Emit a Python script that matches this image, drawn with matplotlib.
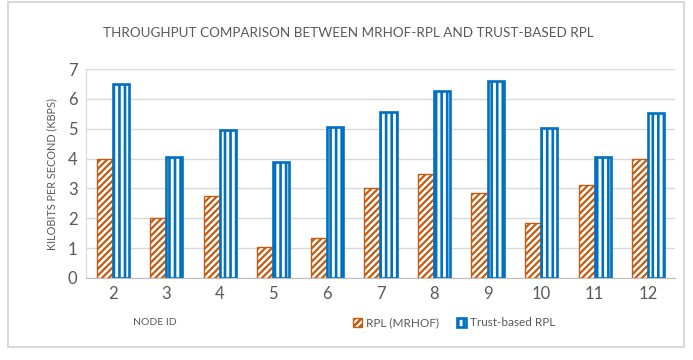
import numpy as np
import matplotlib.pyplot as plt
from matplotlib.patches import Rectangle

nodes = ['2', '3', '4', '5', '6', '7', '8', '9', '10', '11', '12']
rpl_mrhof = [4.0, 2.0, 2.75, 1.05, 1.35, 3.0, 3.5, 2.85, 1.85, 3.1, 4.0]
trust_rpl = [6.5, 4.05, 4.97, 3.9, 5.05, 5.55, 6.25, 6.6, 5.02, 4.07, 5.52]

orange = '#C55A11'
blue = '#0070C0'
grey_txt = '#595959'

plt.rcParams['font.family'] = ['Lato', 'DejaVu Sans']

fig = plt.figure(figsize=(6.93, 3.6), dpi=100)
fig.patches.append(Rectangle((0.012, 0.035), 0.975, 0.96, transform=fig.transFigure,
                             fill=False, edgecolor='#d9d9d9', linewidth=1.5))
ax = fig.add_axes([0.124, 0.228, 0.850, 0.580])

x = np.arange(len(nodes))
w = 0.3
# hatch line width is picked up when each bar set is made
plt.rcParams['hatch.linewidth'] = 1.6
b1 = ax.bar(x - w / 2, rpl_mrhof, w, color='white', edgecolor=orange,
            hatch='/////', linewidth=1.0, label='RPL (MRHOF)')
plt.rcParams['hatch.linewidth'] = 1.9
b2 = ax.bar(x + w / 2, trust_rpl, w, color='white', edgecolor=blue,
            hatch='|||', linewidth=1.9, label='Trust-based RPL')

ax.set_ylim(0, 7)
ax.set_xlim(-0.5, len(nodes) - 0.5)
ax.set_xticks(x)
ax.set_xticklabels(nodes)
ax.set_yticks(range(8))
ax.tick_params(axis='both', length=0, labelsize=12, colors=grey_txt, pad=6)
ax.yaxis.grid(True, color='#d9d9d9', linewidth=1)
ax.set_axisbelow(True)
for s in ['top', 'right']:
    ax.spines[s].set_visible(False)
ax.spines['left'].set_color('#d9d9d9')
ax.spines['bottom'].set_color('#bfbfbf')

ax.set_ylabel('KILOBITS PER SECOND (KBPS)', fontsize=7.8, color=grey_txt, labelpad=8)
fig.text(0.223, 0.105, 'NODE ID', fontsize=7.5, color=grey_txt, ha='center', va='center')
fig.text(0.502, 0.908, 'THROUGHPUT COMPARISON BETWEEN MRHOF-RPL AND TRUST-BASED RPL',
         fontsize=9.7, color=grey_txt, ha='center', va='center')

fig.legend(handles=[b1, b2], loc='center', bbox_to_anchor=(0.655, 0.103), ncol=2,
           frameon=False, fontsize=8.5, handlelength=0.8, handleheight=0.8,
           handletextpad=0.3, columnspacing=1.5, labelcolor=grey_txt)

fig.savefig('out.png', dpi=100)
